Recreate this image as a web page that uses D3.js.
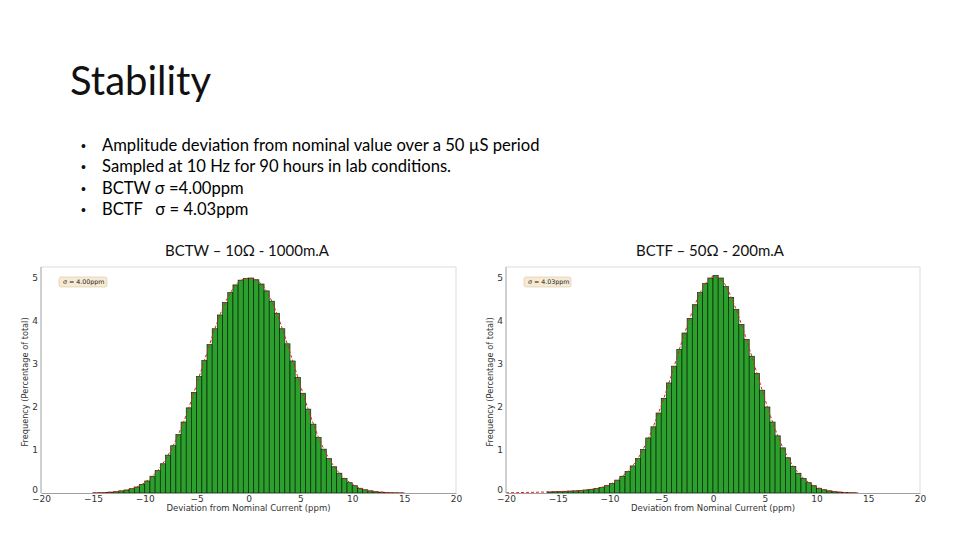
<!DOCTYPE html>
<html>
<head>
<meta charset="utf-8">
<script src="https://cdn.jsdelivr.net/npm/d3@7"></script>
<style>
  html, body { margin: 0; padding: 0; background: #fff; }
  svg { display: block; }
</style>
</head>
<body>
<svg id="chart" width="960" height="540"></svg>
<script>
// ---------- slide text ----------
const slideTitle = "Stability";
const bulletLines = [
  "Amplitude deviation from nominal value over a 50 µS period",
  "Sampled at 10 Hz for 90 hours in lab conditions.",
  "BCTW σ =4.00ppm",
  "BCTF   σ = 4.03ppm"
];
const panelTitles = ["BCTW – 10Ω - 1000m.A", "BCTF – 50Ω - 200m.A"];
const legendTexts = ["σ = 4.00ppm", "σ = 4.03ppm"];
const xTickValues = [-20, -15, -10, -5, 0, 5, 10, 15, 20];
const yTickValues = [0, 1, 2, 3, 4, 5];
const xAxisLabel = "Deviation from Nominal Current (ppm)";
const yAxisLabel = "Frequency (Percentage of total)";

// ---------- BCTW histogram (bin left edges, width 0.5 ppm) ----------
const bctwBinLeft = [
  -15, -14.5, -14, -13.5, -13, -12.5, -12, -11.5, -11, -10.5,
  -10, -9.5, -9, -8.5, -8, -7.5, -7, -6.5, -6, -5.5,
  -5, -4.5, -4, -3.5, -3, -2.5, -2, -1.5, -1, -0.5,
  0, 0.5, 1, 1.5, 2, 2.5, 3, 3.5, 4, 4.5,
  5, 5.5, 6, 6.5, 7, 7.5, 8, 8.5, 9, 9.5,
  10, 10.5, 11, 11.5, 12, 12.5, 13, 13.5, 14, 14.5
];
const bctwFreq = [
  0.004, 0.007, 0.012, 0.02, 0.03, 0.05, 0.07, 0.10, 0.14, 0.20,
  0.28, 0.39, 0.52, 0.68, 0.88, 1.10, 1.36, 1.65, 1.98, 2.34,
  2.71, 3.08, 3.45, 3.82, 4.14, 4.43, 4.66, 4.84, 4.95, 4.99,
  5.00, 4.96, 4.86, 4.70, 4.46, 4.18, 3.82, 3.47, 3.07, 2.69,
  2.32, 1.95, 1.60, 1.29, 1.02, 0.80, 0.61, 0.46, 0.34, 0.24,
  0.17, 0.11, 0.075, 0.05, 0.03, 0.02, 0.012, 0.007, 0.004, 0.002
];
// fitted normal curve (red dashed), read at integer ppm
const bctwFitX = [-15, -14, -13, -12, -11, -10, -9, -8, -7, -6, -5, -4, -3, -2, -1, 0,
                  1, 2, 3, 4, 5, 6, 7, 8, 9, 10, 11, 12, 13, 14, 15];
const bctwFitY = [0.003, 0.01, 0.025, 0.06, 0.12, 0.24, 0.455, 0.78, 1.23, 1.815, 2.525, 3.265, 3.98, 4.545, 4.895, 4.995,
                  4.91, 4.58, 4.0, 3.27, 2.505, 1.775, 1.155, 0.705, 0.40, 0.205, 0.093, 0.04, 0.016, 0.0055, 0.001];

// ---------- BCTF histogram ----------
const bctfBinLeft = [
  -16, -15.5, -15, -14.5, -14, -13.5, -13, -12.5, -12, -11.5,
  -11, -10.5, -10, -9.5, -9, -8.5, -8, -7.5, -7, -6.5,
  -6, -5.5, -5, -4.5, -4, -3.5, -3, -2.5, -2, -1.5,
  -1, -0.5, 0, 0.5, 1, 1.5, 2, 2.5, 3, 3.5,
  4, 4.5, 5, 5.5, 6, 6.5, 7, 7.5, 8, 8.5,
  9, 9.5, 10, 10.5, 11, 11.5, 12, 12.5, 13, 13.5
];
const bctfFreq = [
  0.025, 0.03, 0.035, 0.04, 0.045, 0.05, 0.06, 0.07, 0.085, 0.105,
  0.13, 0.17, 0.22, 0.30, 0.39, 0.50, 0.63, 0.80, 1.01, 1.28,
  1.54, 1.86, 2.20, 2.56, 2.95, 3.34, 3.72, 4.06, 4.38, 4.66,
  4.87, 5.00, 5.06, 5.00, 4.80, 4.55, 4.27, 3.92, 3.57, 3.18,
  2.78, 2.39, 2.00, 1.65, 1.33, 1.05, 0.82, 0.62, 0.46, 0.34,
  0.24, 0.17, 0.11, 0.075, 0.05, 0.03, 0.02, 0.012, 0.006, 0.003
];
const bctfFitX = [-20, -19, -18, -17, -16, -15, -14, -13, -12, -11, -10, -9, -8, -7, -6, -5, -4, -3, -2, -1, 0,
                  1, 2, 3, 4, 5, 6, 7, 8, 9, 10, 11, 12, 13, 14];
const bctfFitY = [0.004, 0.008, 0.013, 0.018, 0.024, 0.032, 0.042, 0.055, 0.077, 0.117, 0.195, 0.345, 0.565, 0.905, 1.41, 2.03, 2.755, 3.53, 4.22, 4.765, 5.03,
                  4.90, 4.41, 3.745, 2.98, 2.20, 1.49, 0.935, 0.54, 0.29, 0.14, 0.062, 0.025, 0.009, 0.003];

const binWidth = 0.5;

// ---------- drawing ----------
const svg = d3.select("#chart");
svg.append("rect").attr("width", 960).attr("height", 540).attr("fill", "#fff");

const slideFont = "Lato, 'Open Sans', sans-serif";
svg.append("text")
  .attr("x", 70).attr("y", 95)
  .attr("font-family", slideFont).attr("font-size", 40)
  .attr("fill", "#111")
  .text(slideTitle);

const bulletY = d3.scaleLinear().domain([0, 3]).range([151, 215]);
bulletLines.forEach((t, i) => {
  svg.append("text").attr("x", 81).attr("y", bulletY(i))
    .attr("font-family", "Arial, sans-serif").attr("font-size", 14).attr("fill", "#111")
    .text("•");
  svg.append("text").attr("x", 102).attr("y", bulletY(i))
    .attr("font-family", slideFont).attr("font-size", 16.6).attr("fill", "#000")
    .style("white-space", "pre")
    .text(t);
});

const panels = [
  { left: 41, right: 456, title: panelTitles[0], titleX: 247, legend: legendTexts[0],
    bins: bctwBinLeft, freq: bctwFreq, fitX: bctwFitX, fitY: bctwFitY, legendW: 48 },
  { left: 506, right: 920, title: panelTitles[1], titleX: 710, legend: legendTexts[1],
    bins: bctfBinLeft, freq: bctfFreq, fitX: bctfFitX, fitY: bctfFitY, legendW: 47 }
];

const plotTop = 267, plotBottom = 493;
const mplFont = "'DejaVu Sans', sans-serif";

panels.forEach((p, pi) => {
  svg.append("text")
    .attr("x", p.titleX).attr("y", 256)
    .attr("text-anchor", "middle")
    .attr("font-family", slideFont).attr("font-size", 15).attr("fill", "#111")
    .text(p.title);

  const x = d3.scaleLinear().domain([-20, 20]).range([p.left, p.right]);
  const y = d3.scaleLinear().domain([0, 5]).range([plotBottom, 278]);

  const g = svg.append("g");

  const clipId = "clip" + pi;
  g.append("clipPath").attr("id", clipId)
    .append("rect").attr("x", p.left).attr("y", plotTop)
    .attr("width", p.right - p.left).attr("height", plotBottom - plotTop);

  // bars
  const bars = p.bins.map((b, i) => ({ x0: b, x1: b + binWidth, v: p.freq[i] }));
  g.append("g").attr("clip-path", `url(#${clipId})`)
    .selectAll("rect").data(bars).join("rect")
    .attr("x", d => x(d.x0))
    .attr("width", d => x(d.x1) - x(d.x0))
    .attr("y", d => y(d.v))
    .attr("height", d => y(0) - y(d.v))
    .attr("fill", "#2ca02c")
    .attr("stroke", "#061806")
    .attr("stroke-opacity", 0.9)
    .attr("stroke-width", 0.7);

  // fitted curve
  const fit = p.fitX.map((v, i) => [v, p.fitY[i]]);
  g.append("path").attr("clip-path", `url(#${clipId})`)
    .datum(fit)
    .attr("d", d3.line().x(d => x(d[0])).y(d => y(d[1])).curve(d3.curveMonotoneX))
    .attr("fill", "none")
    .attr("stroke", "#e0201c")
    .attr("stroke-width", 1)
    .attr("stroke-dasharray", "3,2");

  // frame
  g.append("line").attr("x1", p.left).attr("x2", p.right).attr("y1", plotTop).attr("y2", plotTop)
    .attr("stroke", "#dcdcdc").attr("stroke-width", 1);
  g.append("line").attr("x1", p.right).attr("x2", p.right).attr("y1", plotTop).attr("y2", plotBottom)
    .attr("stroke", "#dcdcdc").attr("stroke-width", 1);

  // axes
  const xAxis = d3.axisBottom(x).tickValues(xTickValues).tickSize(0).tickPadding(3)
    .tickFormat(d => d < 0 ? "\u2212" + Math.abs(d) : String(d));
  const gx = g.append("g").attr("transform", `translate(0,${plotBottom})`).call(xAxis);
  gx.select(".domain").attr("stroke", "#a0a0a0");
  gx.selectAll("text").attr("font-family", mplFont).attr("font-size", 9).attr("fill", "#333");

  const yAxis = d3.axisLeft(y).tickValues(yTickValues).tickSize(0).tickPadding(3)
    .tickFormat(d3.format("d"));
  const gy = g.append("g").attr("transform", `translate(${p.left},0)`).call(yAxis);
  gy.select(".domain").attr("stroke", "#a0a0a0")
    .attr("d", `M0,${plotTop}V${plotBottom}`);
  gy.selectAll("text").attr("font-family", mplFont).attr("font-size", 9).attr("fill", "#333");
  gy.selectAll(".tick").filter(d => d === 0).select("text").attr("dy", "-0.05em");

  // axis labels
  g.append("text")
    .attr("x", (p.left + p.right) / 2).attr("y", 511)
    .attr("text-anchor", "middle")
    .attr("font-family", mplFont).attr("font-size", 8.5).attr("fill", "#333")
    .text(xAxisLabel);
  g.append("text")
    .attr("transform", `translate(${p.left - 13},${(plotTop + plotBottom) / 2 + 2}) rotate(-90)`)
    .attr("text-anchor", "middle")
    .attr("font-family", mplFont).attr("font-size", 8.2).attr("fill", "#333")
    .text(yAxisLabel);

  // legend box
  const lg = g.append("g").attr("transform", `translate(${p.left + 18},${277})`);
  lg.append("rect").attr("width", p.legendW).attr("height", 10).attr("rx", 2)
    .attr("fill", "#f7ead3").attr("stroke", "#d8c8a8").attr("stroke-width", 0.6);
  lg.append("text").attr("x", 4).attr("y", 7.3)
    .attr("font-family", mplFont).attr("font-size", 6.3).attr("fill", "#222")
    .text(p.legend);
});
</script>
</body>
</html>
